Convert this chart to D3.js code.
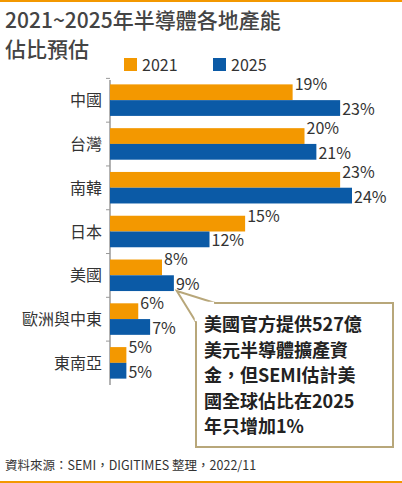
<!DOCTYPE html><html><head><meta charset="utf-8"><script src="https://d3js.org/d3.v7.min.js"></script>
<style>body{margin:0;background:#fff}</style></head><body><script>
const categories=["中國","台灣","南韓","日本","美國","歐洲與中東","東南亞"];
const v2021=[19,20,23,15,8,6,5];
const v2025=[23,21,24,12,9,7,5];
const series=["2021","2025"];
const colors=["#f39800","#0b5aa6"];
const W=402,H=483,F="'Noto Sans CJK TC','Noto Sans',sans-serif";
const svg=d3.select("body").append("svg").attr("width",W).attr("height",H);
svg.append("rect").attr("width",W).attr("height",2).attr("fill","#f39800");
svg.append("rect").attr("y",481).attr("width",W).attr("height",2).attr("fill","#f39800");
svg.append("text").attr("x",5).attr("y",28).attr("font-family",F).attr("font-size",21).attr("font-weight",500).attr("fill","#444").text("2021~2025年半導體各地產能");
svg.append("text").attr("x",5).attr("y",57).attr("font-family",F).attr("font-size",21).attr("font-weight",500).attr("fill","#444").text("佔比預估");
series.forEach((s,i)=>{const lx=124+i*89;
svg.append("rect").attr("x",lx).attr("y",58).attr("width",13).attr("height",13).attr("fill",colors[i]);
svg.append("text").attr("x",lx+18).attr("y",71).attr("font-family",F).attr("font-size",16).attr("fill","#333").text(s);});
const x=d3.scaleLinear().domain([0,24]).range([67,352]);
const y=d3.scaleBand().domain(categories).range([80,383]).paddingInner(0.28).paddingOuter(0.1);
const x0=110;
svg.append("line").attr("x1",x0).attr("x2",x0).attr("y1",80).attr("y2",385).attr("stroke","#999").attr("stroke-width",1.5);
categories.forEach(c=>{svg.append("line").attr("x1",x0-4).attr("x2",x0).attr("y1",y(c)-6).attr("y2",y(c)-6).attr("stroke","#999");});
const bh=y.bandwidth()/2;
[v2021,v2025].forEach((vals,i)=>{
 const g=svg.append("g");
 g.selectAll("rect").data(categories).join("rect").attr("x",x0).attr("y",c=>y(c)+i*bh).attr("width",(c,j)=>x(vals[j])-x0).attr("height",bh).attr("fill",colors[i]);
 g.selectAll("text").data(categories).join("text").attr("x",(c,j)=>x(vals[j])+2).attr("y",c=>y(c)+i*bh+bh/2+(i?7:-2)).attr("font-family",F).attr("font-size",16).attr("fill","#333").text((c,j)=>vals[j]+"%");
});
svg.selectAll(".cat").data(categories).join("text").attr("x",x0-8).attr("y",c=>y(c)+bh+6).attr("text-anchor","end").attr("font-family",F).attr("font-size",16).attr("fill","#333").text(c=>c);
const ux=x(v2025[4])+3, uy=y("美國")+2*bh;
svg.append("path").attr("d",`M196,303 L393,303 L393,447 L196,447 Z`).attr("fill","#fff").attr("stroke","#b8a77a").attr("stroke-width",2);
svg.append("path").attr("d",`M196,322 L${ux},${uy} L215,303`).attr("fill","#fff").attr("stroke","#b8a77a").attr("stroke-width",2);
svg.append("line").attr("x1",197).attr("x2",214).attr("y1",303).attr("y2",303).attr("stroke","#fff").attr("stroke-width",2.5);
svg.append("line").attr("x1",196).attr("x2",196).attr("y1",304).attr("y2",321).attr("stroke","#fff").attr("stroke-width",2.5);
["美國官方提供527億","美元半導體擴產資","金，但SEMI估計美","國全球佔比在2025","年只增加1%"].forEach((t,i)=>
 svg.append("text").attr("x",204).attr("y",331+i*25.5).attr("font-family",F).attr("font-size",18).attr("font-weight",700).attr("fill","#222").text(t));
svg.append("text").attr("x",5).attr("y",470).attr("font-family",F).attr("font-size",12.5).attr("fill","#333").text("資料來源：SEMI，DIGITIMES 整理，2022/11");
</script></body></html>
